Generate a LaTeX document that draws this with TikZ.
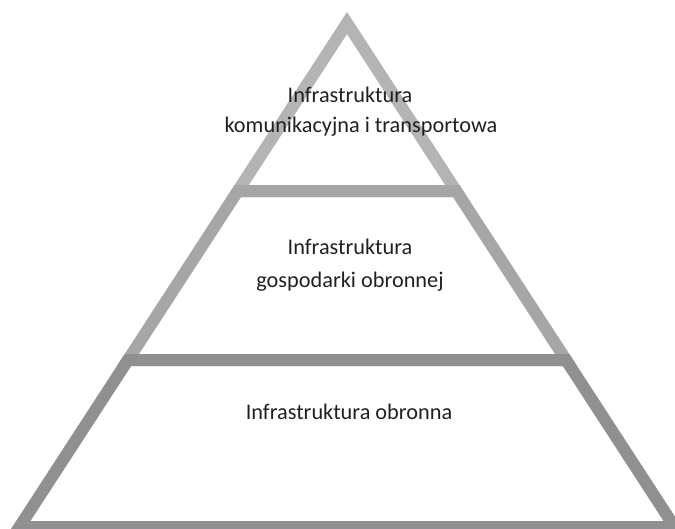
\documentclass[tikz,border=0pt]{standalone}
\usepackage{fontspec}
\setmainfont{Carlito}
\usetikzlibrary{calc}

\definecolor{topgray}{HTML}{B4B4B4}
\definecolor{midgray}{HTML}{A6A6A6}
\definecolor{lowgray}{HTML}{909092}
\definecolor{textdark}{HTML}{231F20}

\tikzset{
  level/.style={line width=12pt, line join=miter, miter limit=10},
  label/.style={align=center, text=textdark, font=\fontsize{22.3}{33}\selectfont}
}

\begin{document}
\begin{tikzpicture}[x=1pt,y=-1pt]
        \useasboundingbox (0,0) rectangle (675,528);
        \clip (0,0) rectangle (675,528);

        % Top level
        \draw [level, topgray] (347,23) -- (456.2,191) -- (237.8,191) -- cycle;

        % Middle level
        \draw [level, midgray] (237.8,191) -- (456.2,191) -- (566.05,360) -- (127.95,360) -- cycle;

        % Bottom level
        \draw [level, lowgray] (127.95,360) -- (566.05,360) -- (674.6,527) -- (19.4,527) -- cycle;

        % Labels
        \node [label] (top1) at (350,95) {Infrastruktura};
        \node [label] (top2) at (361,127) {komunikacyjna i transportowa};
        \node [label] (mid) at (350,265) {Infrastruktura\\gospodarki obronnej};
        \node [label] (low) at (349,412) {Infrastruktura obronna};
\end{tikzpicture}
\end{document}
